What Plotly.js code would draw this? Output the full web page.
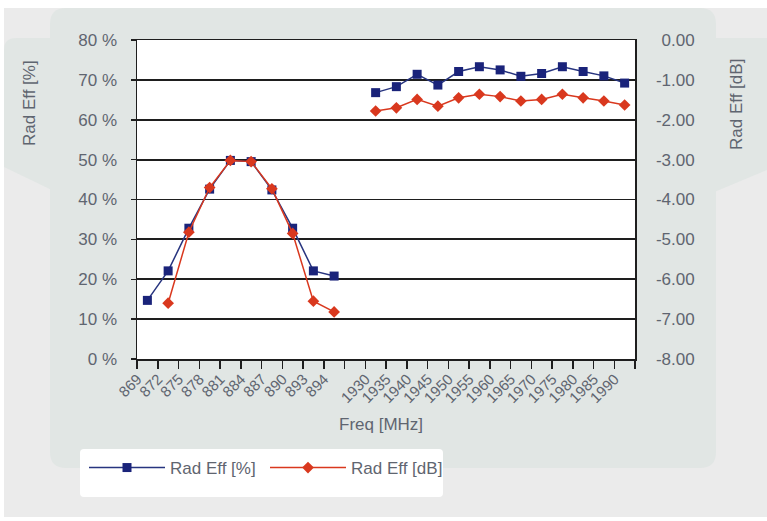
<!DOCTYPE html>
<html>
<head>
<meta charset="utf-8">
<script src="https://cdn.plot.ly/plotly-3.0.1.min.js"></script>
<style>html,body{margin:0;padding:0;background:#fff;}#chart{width:767px;height:521px;}</style>
</head>
<body>
<div id="chart"></div>
<script>
// ---- data ----
const freqLabels = ['869','872','875','878','881','884','887','890','893','894',' ',
  '1930','1935','1940','1945','1950','1955','1960','1965','1970','1975','1980','1985','1990'];
const radEffPct = [14.7, 22.1, 32.8, 42.6, 49.8, 49.5, 42.4, 32.8, 22.1, 20.8, null,
  66.8, 68.3, 71.4, 68.7, 72.1, 73.3, 72.5, 70.9, 71.6, 73.3, 72.1, 71.0, 69.2];
const radEffDb = [null, -6.6, -4.82, -3.7, -3.02, -3.05, -3.73, -4.85, -6.55, -6.82, null,
  -1.78, -1.70, -1.49, -1.66, -1.45, -1.36, -1.42, -1.53, -1.49, -1.36, -1.45, -1.53, -1.63];
const pctTickVals = [0,10,20,30,40,50,60,70,80];
const pctTickText = ['0 %','10 %','20 %','30 %','40 %','50 %','60 %','70 %','80 %'];
const dbTickVals = [0,-1,-2,-3,-4,-5,-6,-7,-8];
const dbTickText = ['\u20040.00','-1.00','-2.00','-3.00','-4.00','-5.00','-6.00','-7.00','-8.00'];

// ---- layout helpers (pixel -> paper) ----
const L=137, R=635, T=40, B=359;
const px = x => (x-L)/(R-L);
const py = y => (B-y)/(B-T);
const P = (x,y) => px(x)+','+py(y);
function roundRect(x0,y0,x1,y1,r){
  return 'M'+P(x0+r,y0)+' L'+P(x1-r,y0)+' Q'+P(x1,y0)+' '+P(x1,y0+r)+
    ' L'+P(x1,y1-r)+' Q'+P(x1,y1)+' '+P(x1-r,y1)+' L'+P(x0+r,y1)+' Q'+P(x0,y1)+' '+P(x0,y1-r)+
    ' L'+P(x0,y0+r)+' Q'+P(x0,y0)+' '+P(x0+r,y0)+' Z';
}
const FONT = '"Liberation Sans", Arial, sans-serif';
const TXT = '#5f6570';
const panel = '#e1e6e4';
const AX = '#1e1e1e';

const shapes = [
  {type:'rect', xref:'paper', yref:'paper', x0:px(4), x1:px(767), y0:py(8), y1:py(517), fillcolor:'#ebebeb', line:{width:0}, layer:'below'},
  {type:'path', xref:'paper', yref:'paper', path:'M'+P(4,50)+' Q'+P(4,38)+' '+P(16,38)+' L'+P(60,38)+' L'+P(60,194)+' L'+P(4,167)+' Z', fillcolor:panel, line:{width:0}, layer:'below'},
  {type:'path', xref:'paper', yref:'paper', path:'M'+P(700,38)+' L'+P(767,38)+' L'+P(767,170)+' L'+P(700,198)+' Z', fillcolor:panel, line:{width:0}, layer:'below'},
  {type:'path', xref:'paper', yref:'paper', path:roundRect(50,8,716,468,16), fillcolor:panel, line:{width:0}, layer:'below'},
  {type:'rect', xref:'paper', yref:'paper', x0:0, x1:1, y0:0, y1:1, fillcolor:'#ffffff', line:{width:0}, layer:'below'},
  {type:'path', xref:'paper', yref:'paper', path:roundRect(80,449,443,497,4), fillcolor:'#ffffff', line:{width:0}, layer:'below'}
];

const traces = [
  {x:freqLabels, y:radEffPct, name:'Rad Eff [%]', type:'scatter', mode:'lines+markers',
   line:{color:'#27347f', width:1.5}, marker:{symbol:'square', size:9, color:'#1a237a'}, yaxis:'y', connectgaps:false},
  {x:freqLabels, y:radEffDb, name:'Rad Eff [dB]', type:'scatter', mode:'lines+markers',
   line:{color:'#d9381e', width:1.5}, marker:{symbol:'diamond', size:9, color:'#d9381e'}, yaxis:'y2', connectgaps:false}
];

const layout = {
  width:767, height:521,
  margin:{l:L, r:767-R, t:T, b:521-B, pad:0},
  paper_bgcolor:'#ffffff', plot_bgcolor:'rgba(0,0,0,0)',
  font:{family:FONT, color:TXT, size:17},
  showlegend:true,
  legend:{orientation:'h', x:px(84), y:py(450), xanchor:'left', yanchor:'top', bgcolor:'rgba(0,0,0,0)',
    font:{family:FONT, size:17, color:TXT}, itemwidth:76, entrywidth:90, entrywidthmode:'pixels', traceorder:'normal'},
  xaxis:{type:'category', categoryorder:'array', categoryarray:freqLabels, range:[-0.5, freqLabels.length-0.5],
    tickson:'boundaries', ticks:'outside', ticklen:8, tickcolor:AX, tickwidth:1.5,
    showline:true, linecolor:AX, linewidth:1.5, mirror:true, showgrid:false, zeroline:false,
    tickangle:-45, tickfont:{family:FONT, size:15, color:TXT}, ticklabelshift:-10, ticklabelstandoff:4, automargin:false},
  yaxis:{range:[0,80], tickvals:pctTickVals, ticktext:pctTickText, ticks:'outside', ticklen:5, tickcolor:AX, tickwidth:1.5,
    showline:true, linecolor:AX, linewidth:1.5, showgrid:true, gridcolor:AX, gridwidth:1.8, zeroline:false,
    tickfont:{family:FONT, size:17, color:TXT}, ticklabelstandoff:10, automargin:false},
  yaxis2:{range:[-8,0], overlaying:'y', side:'right', tickvals:dbTickVals, ticktext:dbTickText, ticks:'',
    showline:true, linecolor:AX, linewidth:1.5, showgrid:false, zeroline:false,
    tickfont:{family:FONT, size:17, color:TXT}, ticklabelstandoff:16, automargin:false},
  shapes:shapes,
  annotations:[
    {text:'Rad Eff [%]', xref:'paper', yref:'paper', x:px(29), y:py(103), xanchor:'center', yanchor:'middle', textangle:-90, showarrow:false, font:{family:FONT, size:17, color:TXT}},
    {text:'Rad Eff [dB]', xref:'paper', yref:'paper', x:px(737), y:py(105), xanchor:'center', yanchor:'middle', textangle:-90, showarrow:false, font:{family:FONT, size:17, color:TXT}},
    {text:'Freq [MHz]', xref:'paper', yref:'paper', x:px(381), y:py(424), xanchor:'center', yanchor:'middle', showarrow:false, font:{family:FONT, size:17, color:TXT}}
  ]
};

Plotly.newPlot('chart', traces, layout, {displayModeBar:false, staticPlot:true});
</script>
</body>
</html>
